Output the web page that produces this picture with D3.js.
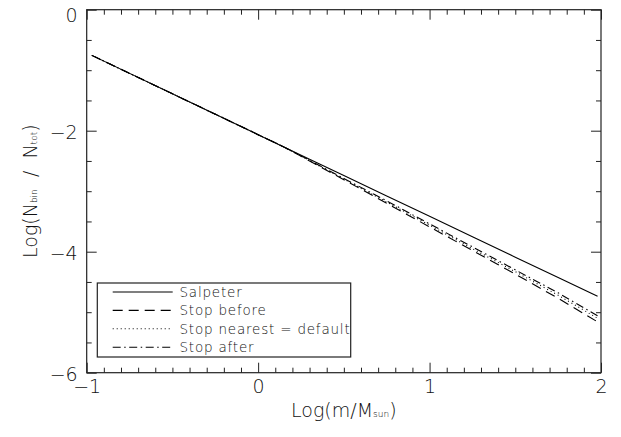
<!DOCTYPE html>
<html>
<head>
<meta charset="utf-8">
<script src="https://cdn.jsdelivr.net/npm/d3@7"></script>
<style>
  html, body { margin: 0; padding: 0; background: #fff; }
  svg { display: block; }
  text { font-family: "DejaVu Sans", "Liberation Sans", sans-serif; font-weight: 200; fill: #111; }
</style>
</head>
<body>
<svg id="chart" width="621" height="437"></svg>
<script>
// ---- data ----
const xValues = [-0.97, 0, 0.15, 0.3, 0.5, 0.75, 1, 1.25, 1.5, 1.75, 1.98];
const salpeter    = [-0.755, -2.065, -2.268, -2.47, -2.74, -3.078, -3.415, -3.753, -4.09, -4.428, -4.738];
const stopBefore  = [-0.755, -2.065, -2.268, -2.50, -2.81, -3.20, -3.59, -3.98, -4.37, -4.77, -5.16];
const stopNearest = [-0.755, -2.065, -2.268, -2.495, -2.80, -3.18, -3.56, -3.95, -4.33, -4.72, -5.10];
const stopAfter   = [-0.755, -2.065, -2.268, -2.49, -2.79, -3.16, -3.54, -3.92, -4.30, -4.68, -5.06];
const seriesNames = ["Salpeter", "Stop before", "Stop nearest = default", "Stop after"];
const xMajorTicks = [-1, 0, 1, 2];
const yMajorTicks = [0, -2, -4, -6];

// ---- layout ----
const svg = d3.select("#chart");
const L = 86.7, R = 601, T = 9.7, B = 372.7;
const x = d3.scaleLinear().domain([-1, 2]).range([L, R]);
const y = d3.scaleLinear().domain([0, -6]).range([T, B]);

const xMinor = d3.range(-10, 21).map(i => i / 10).filter(v => !xMajorTicks.includes(v));
const yMinor = d3.range(0, 13).map(i => -i / 2).filter(v => !yMajorTicks.includes(v));

const fmt = d => (d < 0 ? "\u2212" : "") + Math.abs(d);
const axisColor = "#222";

function styleAxis(g) {
  g.select(".domain").remove();
  g.selectAll(".tick line").attr("stroke", axisColor).attr("stroke-width", 1);
  g.selectAll("text").attr("font-size", 19).attr("fill", "#222")
    .attr("font-family", "DejaVu Sans, sans-serif").attr("font-weight", 200);
}

// bottom
svg.append("g").attr("transform", `translate(0,${B})`)
  .call(d3.axisBottom(x).tickValues(xMajorTicks).tickSize(-10).tickPadding(7).tickFormat(fmt))
  .call(styleAxis);
svg.append("g").attr("transform", `translate(0,${B})`)
  .call(d3.axisBottom(x).tickValues(xMinor).tickSize(-5).tickFormat(""))
  .call(styleAxis);
// top
svg.append("g").attr("transform", `translate(0,${T})`)
  .call(d3.axisTop(x).tickValues(xMajorTicks).tickSize(-10).tickFormat(""))
  .call(styleAxis);
svg.append("g").attr("transform", `translate(0,${T})`)
  .call(d3.axisTop(x).tickValues(xMinor).tickSize(-5).tickFormat(""))
  .call(styleAxis);
// left
svg.append("g").attr("transform", `translate(${L},0)`)
  .call(d3.axisLeft(y).tickValues(yMajorTicks).tickSize(-10).tickPadding(9).tickFormat(fmt))
  .call(styleAxis)
  .call(g => g.selectAll(".tick text").attr("y", d => d === 0 ? 6 : 2));
svg.append("g").attr("transform", `translate(${L},0)`)
  .call(d3.axisLeft(y).tickValues(yMinor).tickSize(-5).tickFormat(""))
  .call(styleAxis);
// right
svg.append("g").attr("transform", `translate(${R},0)`)
  .call(d3.axisRight(y).tickValues(yMajorTicks).tickSize(-10).tickFormat(""))
  .call(styleAxis);
svg.append("g").attr("transform", `translate(${R},0)`)
  .call(d3.axisRight(y).tickValues(yMinor).tickSize(-5).tickFormat(""))
  .call(styleAxis);

// frame
svg.append("rect").attr("x", L).attr("y", T).attr("width", R - L).attr("height", B - T)
  .attr("fill", "none").attr("stroke", axisColor).attr("stroke-width", 1.2);

// ---- lines ----
const dashes = ["none", "10,6", "1,3", "8,3.5,1.5,3.5"];
const allSeries = [salpeter, stopBefore, stopNearest, stopAfter];
const line = d3.line().x((d, i) => x(xValues[i])).y(d => y(d));
allSeries.forEach((s, k) => {
  svg.append("path").datum(s).attr("d", line)
    .attr("fill", "none").attr("stroke", "#000").attr("stroke-width", 1.1)
    .attr("stroke-dasharray", dashes[k]);
});

// ---- legend ----
const lg = svg.append("g");
lg.append("rect").attr("x", 97.3).attr("y", 283).attr("width", 253.4).attr("height", 74)
  .attr("fill", "#fff").attr("stroke", axisColor).attr("stroke-width", 1.2);
seriesNames.forEach((name, k) => {
  const yy = 292 + k * 18.4;
  lg.append("line").attr("x1", 112.7).attr("x2", 172.7).attr("y1", yy).attr("y2", yy)
    .attr("stroke", "#000").attr("stroke-width", 1.1).attr("stroke-dasharray", dashes[k]);
  lg.append("text").attr("x", 179.5).attr("y", yy + 5).attr("font-size", 13.5)
    .attr("letter-spacing", 0.8).text(name);
});

// ---- axis titles ----
const xt = svg.append("text").attr("x", (L + R) / 2).attr("y", 417).attr("text-anchor", "middle")
  .attr("font-size", 19);
xt.append("tspan").text("Log(m/M");
xt.append("tspan").attr("font-size", 9).text("sun");
xt.append("tspan").text(")");

const yt = svg.append("text").attr("transform", `translate(37,${(T + B) / 2}) rotate(-90)`)
  .attr("text-anchor", "middle").attr("font-size", 19);
yt.append("tspan").text("Log(N");
yt.append("tspan").attr("font-size", 9).text("bin");
yt.append("tspan").attr("xml:space", "preserve").text("  /  N");
yt.append("tspan").attr("font-size", 9).text("tot");
yt.append("tspan").text(")");
</script>
</body>
</html>
